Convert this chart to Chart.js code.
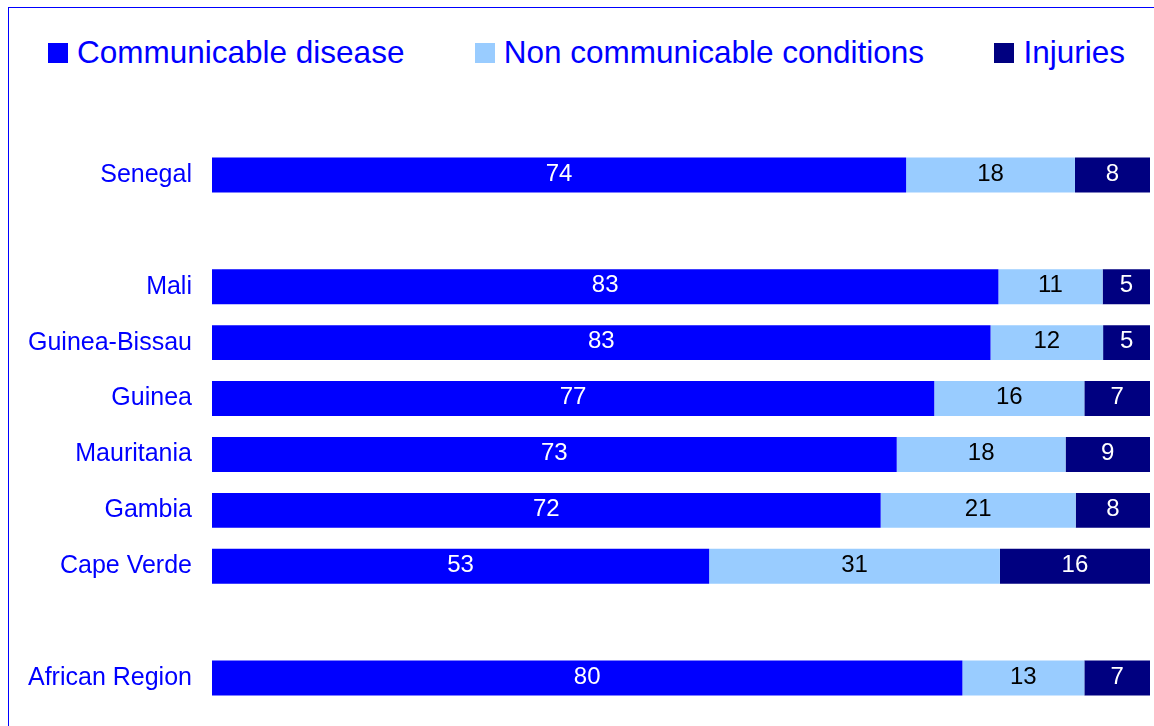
<!DOCTYPE html>
<html>
<head>
<meta charset="utf-8">
<script src="https://cdn.jsdelivr.net/npm/chart.js@4/dist/chart.umd.min.js"></script>
<style>
  html, body { margin: 0; padding: 0; background: #fff; overflow: hidden; }
  #wrap { position: relative; width: 1154px; height: 726px; overflow: hidden; }
  #frame { position: absolute; left: 8px; top: 7px; width: 2000px; height: 2000px; border: 1px solid #0000FF; }
  #legend { position: absolute; left: 48px; right: 29px; top: 37px; display: flex; justify-content: space-between;
            font-family: "Liberation Sans", Arial, sans-serif; font-size: 31.5px; color: #0000FF; }
  .item { display: flex; align-items: center; }
  .item i { display: inline-block; width: 20px; height: 20px; margin-right: 9px; }
  .item span { line-height: 1; }
  canvas { position: absolute; left: 0; top: 0; }
</style>
</head>
<body>
<div id="wrap">
  <div id="frame"></div>
  <div id="legend"></div>
  <!-- a bit taller than the window: the tick padding eats space below the last row -->
  <canvas id="chart" width="1154" height="741"></canvas>
</div>
<script>
// rows as they appear top to bottom, empty labels are spacer rows
const countries = ["Senegal", "", "Mali", "Guinea-Bissau", "Guinea", "Mauritania", "Gambia", "Cape Verde", "", "African Region"];
const communicable = [74, null, 83, 83, 77, 73, 72, 53, null, 80];
const nonCommunicable = [18, null, 11, 12, 16, 18, 21, 31, null, 13];
const injuries = [8, null, 5, 5, 7, 9, 8, 16, null, 7];

const seriesNames = ["Communicable disease", "Non communicable conditions", "Injuries"];
const seriesColors = ["#0000FF", "#99CCFF", "#000080"];
const labelColors = ["#FFFFFF", "#000000", "#FFFFFF"];

const raw = [communicable, nonCommunicable, injuries];

// 100% stacked: each row scaled to its own total
function toPercent(values) {
  return values.map((v, i) => {
    if (v === null) return null;
    const total = communicable[i] + nonCommunicable[i] + injuries[i];
    return v / total * 100;
  });
}

// legend
const legend = document.getElementById("legend");
seriesNames.forEach((name, i) => {
  const item = document.createElement("div");
  item.className = "item";
  item.innerHTML = '<i style="background:' + seriesColors[i] + '"></i><span>' + name + '</span>';
  legend.appendChild(item);
});

// write the raw value in the middle of each segment
const valueLabels = {
  id: "valueLabels",
  afterDatasetsDraw(chart) {
    const ctx = chart.ctx;
    ctx.save();
    ctx.font = '24px "Liberation Sans", Arial, sans-serif';
    ctx.textAlign = "center";
    ctx.textBaseline = "middle";
    chart.data.datasets.forEach((ds, di) => {
      const meta = chart.getDatasetMeta(di);
      meta.data.forEach((bar, i) => {
        const v = raw[di][i];
        if (v === null) return;
        ctx.fillStyle = labelColors[di];
        ctx.fillText(String(v), (bar.x + bar.base) / 2, bar.y - 1);
      });
    });
    ctx.restore();
  }
};

new Chart(document.getElementById("chart"), {
  type: "bar",
  data: {
    labels: countries,
    datasets: raw.map((values, i) => ({
      label: seriesNames[i],
      data: toPercent(values),
      backgroundColor: seriesColors[i],
      borderWidth: 0,
      barPercentage: 0.625,
      categoryPercentage: 1.0
    }))
  },
  options: {
    indexAxis: "y",
    responsive: false,
    animation: false,
    layout: { padding: { top: 147, bottom: 4, left: 8, right: 4 } },
    plugins: {
      legend: { display: false },
      tooltip: { enabled: false }
    },
    scales: {
      x: { stacked: true, min: 0, max: 100, display: false },
      y: {
        stacked: true,
        grid: { display: false, drawTicks: false },
        border: { display: false },
        ticks: {
          color: "#0000FF",
          padding: 20,
          font: { family: '"Liberation Sans", Arial, sans-serif', size: 25 }
        }
      }
    }
  },
  plugins: [valueLabels]
});
</script>
</body>
</html>
